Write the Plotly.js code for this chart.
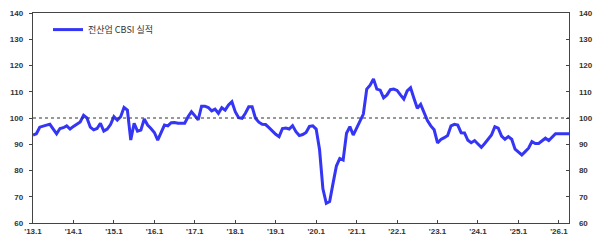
<!DOCTYPE html>
<html>
<head>
<meta charset="utf-8">
<script src="https://cdn.plot.ly/plotly-3.0.1.min.js"></script>
<style>html,body{margin:0;padding:0;background:#fff;}#chart{width:600px;height:240px;}</style>
</head>
<body>
<div id="chart"></div>
<script>
// Monthly index: 0 = 2013.1
const seriesName = "전산업 CBSI 실적";
const cbsi = [
  93.5, 94.0, 96.5, 97.0, 97.3, 97.6, 96.0, 94.0, 96.0, 96.3, 97.0, 95.8,
  96.8, 97.8, 98.5, 101.0, 100.0, 96.5, 95.5, 96.0, 98.0, 95.0, 95.8, 97.5,
  100.5, 99.2, 100.5, 104.0, 103.0, 91.6, 98.0, 95.0, 95.4, 99.6, 97.3, 96.0,
  94.5, 91.6, 94.5, 97.3, 97.0, 98.2, 98.3, 98.0, 98.0, 98.0, 100.5, 102.4,
  100.9, 99.3, 104.5, 104.5, 104.0, 102.7, 103.4, 101.8, 103.9, 103.0, 105.0, 106.2,
  102.4, 100.1, 99.9, 101.8, 104.3, 104.3, 99.9, 98.4, 97.6, 97.5, 96.3, 95.0,
  93.8, 92.9, 96.0, 96.2, 95.8, 97.1, 94.8, 93.3, 93.7, 94.5, 96.8, 97.0,
  95.8, 88.0, 73.0, 67.5, 68.2, 75.1, 81.7, 84.6, 84.0, 94.2, 96.7, 93.5,
  96.2, 98.6, 101.5, 111.0, 112.5, 114.9, 111.0, 110.6, 107.7, 108.8, 110.8, 111.0,
  110.5, 108.8, 107.2, 110.3, 111.5, 107.5, 103.7, 105.2, 101.8, 99.0, 97.0, 95.5,
  90.5, 91.8, 92.5, 93.3, 97.0, 97.6, 97.3, 94.4, 94.3, 91.5, 90.6, 91.4,
  90.1, 88.8, 90.3, 91.9, 93.5, 96.7, 96.1, 93.1, 91.9, 92.9, 91.9, 88.1,
  86.8, 85.9, 87.2, 88.5, 91.0, 90.3, 90.3, 91.4, 92.3, 91.4, 92.6, 94.0,
  94.0, 94.0, 94.0, 94.0
];
const months = cbsi.map((v, i) => i);
const xTickVals = [0, 12, 24, 36, 48, 60, 72, 84, 96, 108, 120, 132, 144, 156];
const xTickText = ["'13.1", "'14.1", "'15.1", "'16.1", "'17.1", "'18.1", "'19.1", "'20.1", "'21.1", "'22.1", "'23.1", "'24.1", "'25.1", "'26.1"];
const yTickVals = [60, 70, 80, 90, 100, 110, 120, 130, 140];
const refLevel = 100;

const tickFont = {family: "Liberation Sans, Arial, sans-serif", size: 8, color: "#333", weight: "bold"};
const axisCol = "#444";

const traces = [
  {x: months, y: cbsi, type: "scatter", mode: "lines", name: seriesName,
   line: {color: "#3535f5", width: 3}, hoverinfo: "skip"},
  {x: months, y: cbsi, type: "scatter", mode: "lines", yaxis: "y2", showlegend: false,
   line: {color: "rgba(0,0,0,0)", width: 0}, hoverinfo: "skip"}
];

const layout = {
  width: 600, height: 240,
  margin: {l: 33, r: 31, t: 13, b: 17},
  paper_bgcolor: "#fff", plot_bgcolor: "#fff",
  showlegend: true,
  legend: {x: 0.028, y: 0.99, xanchor: "left", yanchor: "top", bgcolor: "rgba(0,0,0,0)",
           font: {family: "Noto Sans CJK KR, sans-serif", size: 9, color: "#333"}},
  xaxis: {range: [0, 159], tickvals: xTickVals, ticktext: xTickText, showgrid: false, zeroline: false,
          showline: true, linecolor: axisCol, linewidth: 1.3, mirror: true,
          ticks: "inside", ticklen: 3, tickcolor: axisCol, tickfont: tickFont},
  yaxis: {range: [60, 140], tickvals: yTickVals, showgrid: false, zeroline: false,
          showline: true, linecolor: axisCol, linewidth: 1.3,
          ticks: "outside", ticklen: 3, tickcolor: axisCol, tickfont: tickFont, ticklabelstandoff: 4},
  yaxis2: {range: [60, 140], tickvals: yTickVals, overlaying: "y", side: "right", showgrid: false, zeroline: false,
           showline: true, linecolor: axisCol, linewidth: 1.3,
           ticks: "inside", ticklen: 3, tickcolor: axisCol, tickfont: tickFont, ticklabelstandoff: 7},
  shapes: [{type: "line", xref: "paper", x0: 0, x1: 1, yref: "y", y0: refLevel, y1: refLevel,
            line: {color: "#333", width: 1.2, dash: "dot"}}]
};

Plotly.newPlot("chart", traces, layout, {displayModeBar: false, staticPlot: true});
</script>
</body>
</html>
